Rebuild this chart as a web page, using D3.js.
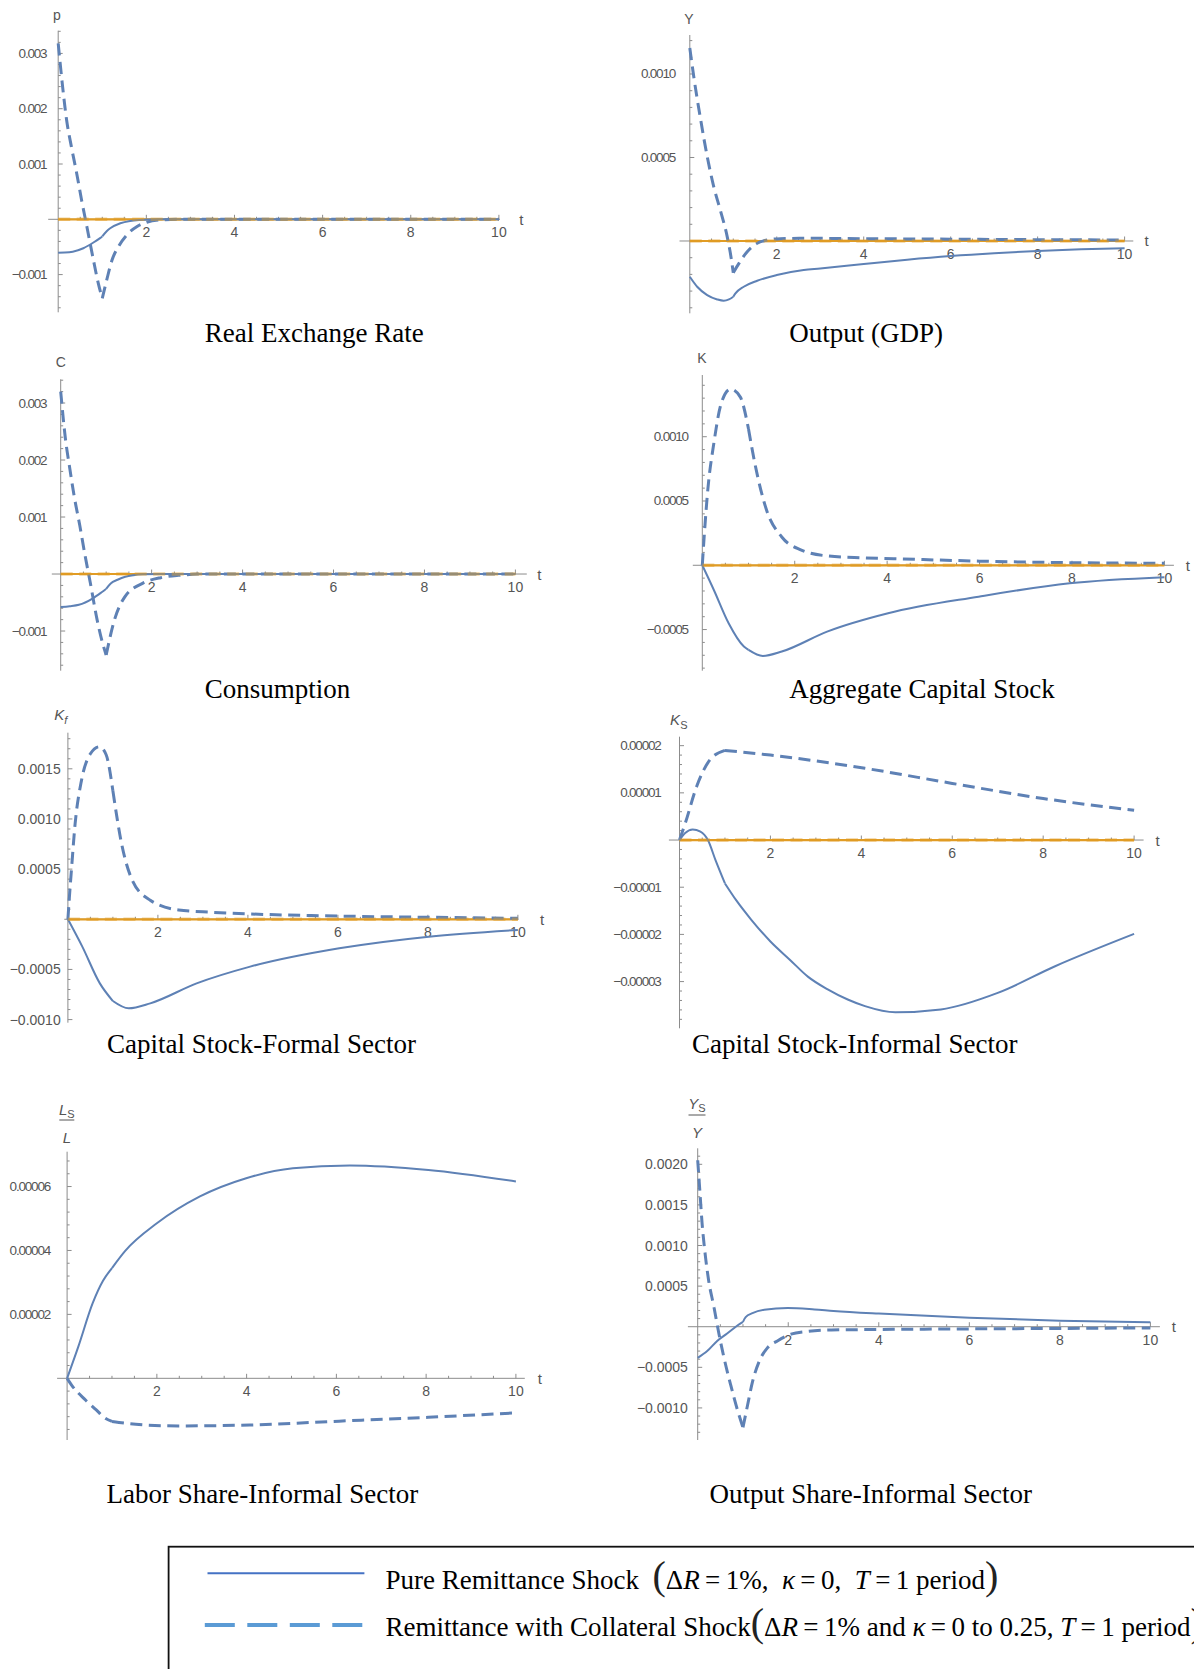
<!DOCTYPE html>
<html>
<head>
<meta charset="utf-8">
<script src="https://cdn.jsdelivr.net/npm/d3@7"></script>
<style>
  body { margin: 0; background: #fff; }
  svg text { font-family: "Liberation Sans", Arial, sans-serif; }
  .title, .legend { font-family: "Liberation Serif", "Times New Roman", serif; fill: #000; }
</style>
</head>
<body>
<svg id="chart" width="1194" height="1669"></svg>
<script>
// x axis tick labels (periods)
const tTicks = [2, 4, 6, 8, 10];

// series: [t, deviation]
// Real exchange rate
const rerPure = [[0,-0.000603],[0.15,-0.0006],[0.33,-0.000585],[0.57,-0.000524],[0.8,-0.00042],[0.95,-0.00034],[1,-0.00031],[1.1,-0.000217],[1.18,-0.000163],[1.41,-0.000072],[1.63,-0.00003],[1.86,-0.000012],[2.3,0],[10,0]];
const rerCollateral = [[0,0.00318],[0.1,0.0024],[0.19,0.0018],[0.3,0.00131],[0.42,0.00083],[0.53,0.00035],[0.65,-0.00013],[0.8,-0.00074],[0.91,-0.00116],[1,-0.00143],[1.1,-0.0011],[1.22,-0.00074],[1.37,-0.00049],[1.56,-0.00028],[1.79,-0.00013],[2.01,-0.000054],[2.32,-0.000012],[2.8,0],[10,0]];
const rerTicks = [-0.001, 0.001, 0.002, 0.003];

// Output (GDP)
const gdpPure = [[0,-0.000214],[0.17,-0.000274],[0.4,-0.000324],[0.63,-0.00035],[0.78,-0.000358],[0.9,-0.00035],[1,-0.000334],[1.05,-0.000314],[1.24,-0.000274],[1.55,-0.000238],[2,-0.000204],[2.62,-0.000174],[3,-0.000165],[4,-0.000138],[5,-0.000112],[6,-0.00009],[7,-0.000073],[8,-0.00006],[9,-0.00005],[10,-0.000044]];
const gdpCollateral = [[0,0.001156],[0.09,0.000986],[0.25,0.000726],[0.4,0.000506],[0.55,0.000326],[0.7,0.000186],[0.86,0.000026],[0.95,-0.0001],[1,-0.00019],[1.13,-0.000134],[1.32,-0.000064],[1.55,-0.000014],[1.78,0.000006],[2.08,0.000014],[2.62,0.000016],[4,0.000014],[6,0.000011],[8,0.000008],[10,0.000006]];
const gdpTicks = [0.0005, 0.001];

// Consumption
const consPure = [[0,-0.00058],[0.2,-0.000565],[0.4,-0.00054],[0.7,-0.00043],[0.9,-0.00032],[1,-0.00026],[1.1,-0.000165],[1.25,-0.0001],[1.42,-0.000047],[1.6,-0.00002],[1.81,-0.000006],[2.2,0],[10,0]];
const consCollateral = [[0,0.0032],[0.1,0.0024],[0.2,0.00185],[0.3,0.00135],[0.42,0.00085],[0.53,0.00035],[0.65,-0.00015],[0.8,-0.0008],[0.91,-0.00118],[1,-0.00142],[1.18,-0.00081],[1.41,-0.0004],[1.81,-0.00016],[2.2,-0.000064],[2.59,-0.000023],[3.2,0],[10,0]];
const consTicks = [-0.001, 0.001, 0.002, 0.003];

// Aggregate capital stock
const capPure = [[0,0],[0.25,-0.000192],[0.57,-0.000451],[0.9,-0.000632],[1,-0.000658],[1.31,-0.000705],[1.72,-0.000671],[2.7,-0.000516],[4.02,-0.000373],[5.98,-0.000244],[7.95,-0.00014],[10,-0.000093]];
const capCollateral = [[0,0],[0.04,0.00022],[0.12,0.00059],[0.25,0.00095],[0.41,0.00126],[0.61,0.00137],[0.82,0.00131],[1,0.00106],[1.15,0.00077],[1.39,0.00043],[1.72,0.00022],[2.13,0.00012],[2.7,0.000073],[3.5,0.000058],[4.34,0.000049],[6,0.000032],[8,0.00002],[10,0.000016]];
const capTicks = [-0.0005, 0.0005, 0.001];

// Capital stock, formal sector
const kfPure = [[0,0],[0.32,-0.000273],[0.71,-0.000639],[1,-0.000815],[1.35,-0.000888],[1.83,-0.000838],[2.86,-0.000639],[4.05,-0.000472],[6.03,-0.000289],[8.02,-0.000173],[10,-0.000106]];
const kfCollateral = [[0,0],[0.03,0.0002],[0.08,0.0005],[0.16,0.00095],[0.3,0.00138],[0.5,0.00165],[0.7,0.00172],[0.85,0.00164],[1,0.00128],[1.19,0.00076],[1.43,0.00039],[1.83,0.00019],[2.46,0.000093],[3.2,0.00007],[4.05,0.000053],[5.63,0.000035],[8,0.00002],[10,0.00001]];
const kfTicks = [-0.001, -0.0005, 0.0005, 0.001, 0.0015];

// Capital stock, informal sector
const ksPure = [[0,0],[0.125,0.0000015],[0.29,0.00000225],[0.46,0.0000018],[0.625,0],[0.79,-0.0000042],[1,-0.0000092],[1.25,-0.0000128],[1.58,-0.0000169],[2,-0.0000215],[2.42,-0.0000253],[2.83,-0.000029],[3.25,-0.0000316],[3.7,-0.0000338],[4.08,-0.0000352],[4.75,-0.0000365],[5.75,-0.0000359],[7,-0.0000324],[8.25,-0.0000268],[10,-0.0000199]];
const ksCollateral = [[0,0],[0.125,0.0000035],[0.375,0.0000113],[0.67,0.000017],[1,0.000019],[2,0.000018],[4.08,0.0000152],[6,0.000012],[8,0.0000088],[10,0.0000063]];
const ksTicks = [-0.00003, -0.00002, -0.00001, 0.00001, 0.00002];

// Labor share, informal sector
const lsPure = [[0,0],[0.25,0.0000099],[0.57,0.0000235],[0.8,0.0000305],[1,0.0000345],[1.29,0.0000398],[2,0.0000485],[2.96,0.0000569],[3.99,0.0000626],[5.03,0.0000657],[6.3,0.0000666],[8.05,0.0000652],[10,0.0000616]];
const lsCollateral = [[0,0],[0.1,-0.0000021],[0.41,-0.0000068],[0.65,-0.0000099],[0.85,-0.0000125],[1,-0.0000135],[1.53,-0.0000144],[2.48,-0.0000149],[4.07,-0.0000146],[6.06,-0.0000134],[8.05,-0.0000122],[10,-0.0000108]];
const lsTicks = [0.00002, 0.00004, 0.00006];

// Output share, informal sector
const ysPure = [[0,-0.000383],[0.21,-0.0003],[0.43,-0.000175],[0.65,-0.000083],[0.87,0.0000125],[1,0.00006],[1.06,0.000117],[1.21,0.000167],[1.47,0.000208],[1.99,0.00023],[2.58,0.000213],[3,0.000195],[4,0.000162],[6,0.000111],[8,0.000074],[10,0.000054]];
const ysCollateral = [[0,0.00205],[0.044,0.0017],[0.096,0.00128],[0.17,0.00087],[0.24,0.000575],[0.36,0.00024],[0.47,-0.00009],[0.58,-0.00038],[0.73,-0.00072],[0.87,-0.00101],[1,-0.00124],[1.1,-0.00097],[1.21,-0.00068],[1.36,-0.000425],[1.54,-0.00026],[1.76,-0.000175],[2.06,-0.000092],[2.43,-0.000058],[2.95,-0.00004],[3.61,-0.000036],[5,-0.00003],[7,-0.000024],[10,-0.000015]];
const ysTicks = [-0.001, -0.0005, 0.0005, 0.001, 0.0015, 0.002];

// steady-state reference line
const zeroLine = [[0,0],[10,0]];

// panel layout (pixel boxes of each Mathematica frame)
const panels = [
  {title:"Real Exchange Rate", pure:rerPure, coll:rerCollateral, ticks:rerTicks, fmt:".3f", minor:0.0002, zero:true, condensed:true,
   label:{kind:"plain", text:"p", x:57, y:15},
   x0:58.2, x10:498.9, axL:48.2, axR:500, top:30.7, bottom:312.3, vTop:0.003411, vBot:-0.001682, gap:11.8, tX:521.4, titleX:314.3, titleY:341.7},
  {title:"Output (GDP)", pure:gdpPure, coll:gdpCollateral, ticks:gdpTicks, fmt:".4f", minor:0.0001, zero:true, condensed:true,
   label:{kind:"plain", text:"Y", x:689, y:19},
   x0:689.8, x10:1124.6, axL:679.5, axR:1133.3, top:35, bottom:313.3, vTop:0.0012335, vBot:-0.000433, gap:14.8, tX:1146.6, titleX:866.1, titleY:341.7},
  {title:"Consumption", pure:consPure, coll:consCollateral, ticks:consTicks, fmt:".3f", minor:0.0002, zero:true, condensed:true,
   label:{kind:"plain", text:"C", x:60.7, y:361.7},
   x0:60.7, x10:515.4, axL:51.8, axR:526.8, top:379.3, bottom:670.7, vTop:0.003416, vBot:-0.001696, gap:14.3, tX:539.3, titleX:277.6, titleY:698.3},
  {title:"Aggregate Capital Stock", pure:capPure, coll:capCollateral, ticks:capTicks, fmt:".4f", minor:0.0001, zero:true, condensed:true,
   label:{kind:"plain", text:"K", x:702, y:358.3},
   x0:702.3, x10:1164.4, axL:692.8, axR:1173.9, top:375, bottom:670.7, vTop:0.00148, vBot:-0.00082, gap:14.4, tX:1187.9, titleX:922, titleY:698.3},
  {title:"Capital Stock-Formal Sector", pure:kfPure, coll:kfCollateral, ticks:kfTicks, fmt:".4f", minor:0.0001, zero:true, condensed:false,
   label:{kind:"sub", text:"K", sub:"f", x:60.7, y:715},
   x0:67.9, x10:517.9, axL:64.3, axR:518.6, top:732.7, bottom:1022.7, vTop:0.00186, vBot:-0.001031, gap:7.2, tX:542, titleX:261.5, titleY:1053.3},
  {title:"Capital Stock-Informal Sector", pure:ksPure, coll:ksCollateral, ticks:ksTicks, fmt:".5f", minor:0.000002, zero:true, condensed:true,
   label:{kind:"sub", text:"K", sub:"S", x:678.8, y:720},
   x0:679.5, x10:1134.1, axL:668.9, axR:1143.6, top:736.7, bottom:1028.3, vTop:0.0000219, vBot:-0.0000399, gap:18.9, tX:1157.6, titleX:854.7, titleY:1053},
  {title:"Labor Share-Informal Sector", pure:lsPure, coll:lsCollateral, ticks:lsTicks, fmt:".5f", minor:0.000004, zero:false, condensed:true,
   label:{kind:"frac", text:"L", x:66.8, yNum:1110, yLine:1120, yDen:1138, w:15},
   x0:67.1, x10:515.9, axL:57.1, axR:524.8, top:1151.7, bottom:1440, vTop:0.0000709, vBot:-0.0000193, gap:17.1, tX:539.8, titleX:262.4, titleY:1503.3},
  {title:"Output Share-Informal Sector", pure:ysPure, coll:ysCollateral, ticks:ysTicks, fmt:".4f", minor:0.0001, zero:false, condensed:false,
   label:{kind:"frac", text:"Y", x:697, yNum:1104, yLine:1115, yDen:1132.7, w:17},
   x0:697.7, x10:1150.4, axL:687.9, axR:1159.9, top:1148.3, bottom:1440, vTop:0.002197, vBot:-0.001395, gap:9.8, tX:1173.9, titleX:870.8, titleY:1503.3}
];

const blue = "#5E81B5", orange = "#E19C24", axisCol = "#8c8c8c", labCol = "#555";
const svg = d3.select("#chart");

// split at t = 1 (end of shock) so the corner there stays sharp
const pieces = s => [s.filter(d => d[0] <= 1), s.filter(d => d[0] >= 1)].filter(p => p.length > 1);

const drawPanel = p => {
  const x = d3.scaleLinear().domain([0, 10]).range([p.x0, p.x10]);
  const y = d3.scaleLinear().domain([p.vBot, p.vTop]).range([p.bottom, p.top]);
  const g = svg.append("g");
  const y0 = y(0), xa = x(0);

  // axes
  g.append("line").attr("x1", p.axL).attr("x2", p.axR).attr("y1", y0).attr("y2", y0)
    .attr("stroke", axisCol).attr("stroke-width", 1);
  g.append("line").attr("x1", xa).attr("x2", xa).attr("y1", p.top).attr("y2", p.bottom)
    .attr("stroke", axisCol).attr("stroke-width", 1);

  // x ticks
  const xMinor = d3.range(1, 21).map(i => i * 0.5).filter(t => !tTicks.includes(t));
  g.selectAll(".xmin").data(xMinor).join("line")
    .attr("x1", d => x(d)).attr("x2", d => x(d)).attr("y1", y0).attr("y2", y0 - 2.5)
    .attr("stroke", axisCol);
  g.selectAll(".xmaj").data(tTicks).join("line")
    .attr("x1", d => x(d)).attr("x2", d => x(d)).attr("y1", y0).attr("y2", y0 - 4.5)
    .attr("stroke", axisCol);
  g.selectAll(".xlab").data(tTicks).join("text")
    .attr("x", d => x(d)).attr("y", y0 + 18).attr("text-anchor", "middle")
    .attr("font-size", 14).attr("fill", labCol).text(d => d);
  g.append("text").attr("x", p.tX).attr("y", y0).attr("dominant-baseline", "central")
    .attr("text-anchor", "middle").attr("font-size", 15).attr("fill", labCol).text("t");

  // y ticks
  const lo = Math.ceil(p.vBot / p.minor - 1e-6), hi = Math.floor(p.vTop / p.minor + 1e-6);
  const yMinor = d3.range(lo, hi + 1).filter(i => i % 5 !== 0).map(i => i * p.minor);
  g.selectAll(".ymin").data(yMinor).join("line")
    .attr("x1", xa).attr("x2", xa + 2.5).attr("y1", d => y(d)).attr("y2", d => y(d))
    .attr("stroke", axisCol);
  g.selectAll(".ymaj").data(p.ticks).join("line")
    .attr("x1", xa).attr("x2", xa + 4.5).attr("y1", d => y(d)).attr("y2", d => y(d))
    .attr("stroke", axisCol);
  const fmt = d3.format(p.fmt);
  g.selectAll(".ylab").data(p.ticks).join("text")
    .attr("x", xa - p.gap).attr("y", d => y(d)).attr("text-anchor", "end")
    .attr("dominant-baseline", "central")
    .attr("font-size", p.condensed ? 13.5 : 14)
    .attr("letter-spacing", p.condensed ? -1.2 : 0)
    .attr("fill", labCol).text(d => fmt(d));

  // variable label
  const L = p.label;
  if (L.kind === "plain") {
    g.append("text").attr("x", L.x).attr("y", L.y).attr("text-anchor", "middle")
      .attr("dominant-baseline", "central").attr("font-size", 14).attr("fill", labCol).text(L.text);
  } else if (L.kind === "sub") {
    const t = g.append("text").attr("x", L.x).attr("y", L.y + 5).attr("text-anchor", "middle")
      .attr("font-size", 15).attr("fill", labCol);
    t.append("tspan").attr("font-style", "italic").text(L.text);
    t.append("tspan").attr("font-size", 11).attr("font-style", L.sub === "f" ? "italic" : "normal")
      .attr("dy", 4).text(L.sub);
  } else {
    const t = g.append("text").attr("x", L.x).attr("y", L.yNum + 5).attr("text-anchor", "middle")
      .attr("font-size", 15).attr("fill", labCol);
    t.append("tspan").attr("font-style", "italic").text(L.text);
    t.append("tspan").attr("font-size", 11).attr("dy", 3).text("S");
    g.append("line").attr("x1", L.x - L.w / 2).attr("x2", L.x + L.w / 2)
      .attr("y1", L.yLine).attr("y2", L.yLine).attr("stroke", labCol).attr("stroke-width", 1);
    g.append("text").attr("x", L.x).attr("y", L.yDen + 5).attr("text-anchor", "middle")
      .attr("font-size", 15).attr("font-style", "italic").attr("fill", labCol).text(L.text);
  }

  const line = d3.line().x(d => x(d[0])).y(d => y(d[1])).curve(d3.curveMonotoneX);

  if (p.zero) {
    g.append("path").attr("d", line(zeroLine)).attr("fill", "none")
      .attr("stroke", orange).attr("stroke-width", 2.2);
  }
  pieces(p.pure).forEach(s => g.append("path").attr("d", line(s)).attr("fill", "none")
    .attr("stroke", blue).attr("stroke-width", 2));
  pieces(p.coll).forEach(s => g.append("path").attr("d", line(s)).attr("fill", "none")
    .attr("stroke", blue).attr("stroke-width", 3).attr("stroke-dasharray", "12,6.5"));
  if (p.zero) {
    g.append("path").attr("d", line(zeroLine)).attr("fill", "none")
      .attr("stroke", orange).attr("stroke-opacity", 0.45).attr("stroke-width", 3.5)
      .attr("stroke-dasharray", "12,6.5");
  }

  g.append("text").attr("class", "title").attr("x", p.titleX).attr("y", p.titleY)
    .attr("text-anchor", "middle").attr("font-size", 27).text(p.title);
};

panels.forEach(drawPanel);

// legend
const legend = svg.append("g");
legend.append("rect").attr("x", 168.6).attr("y", 1546.7).attr("width", 1100).attr("height", 200)
  .attr("fill", "none").attr("stroke", "#111").attr("stroke-width", 1.8);
legend.append("line").attr("x1", 207.5).attr("x2", 364.4).attr("y1", 1573.3).attr("y2", 1573.3)
  .attr("stroke", "#4472C4").attr("stroke-width", 2);
legend.append("line").attr("x1", 204.8).attr("x2", 364.4).attr("y1", 1625).attr("y2", 1625)
  .attr("stroke", "#5B9BD5").attr("stroke-width", 4).attr("stroke-dasharray", "30,12.5");

const legendPure = [["Pure Remittance Shock  ","n"],["(","p"],["\u0394","n"],["R","i"],["\u2009=\u20091%,  ","n"],["\u03ba","i"],["\u2009=\u20090,  ","n"],["T","i"],["\u2009=\u20091 period","n"],[")","p"]];
const legendColl = [["Remittance with Collateral Shock","n"],["(","p"],["\u0394","n"],["R","i"],["\u2009=\u20091% and ","n"],["\u03ba","i"],["\u2009=\u20090 to 0.25, ","n"],["T","i"],["\u2009=\u20091 period","n"],[")","p"]];

const writeLegend = (parts, yb) => {
  const t = legend.append("text").attr("class", "legend").attr("x", 385.5).attr("y", yb)
    .attr("font-size", 27).style("white-space", "pre");
  parts.forEach(([s, k]) => {
    const ts = t.append("tspan").text(s);
    if (k === "i") ts.attr("font-style", "italic");
    if (k === "p") ts.attr("font-size", 40).attr("fill", "#222");
  });
};
writeLegend(legendPure, 1589);
writeLegend(legendColl, 1636);
</script>
</body>
</html>
